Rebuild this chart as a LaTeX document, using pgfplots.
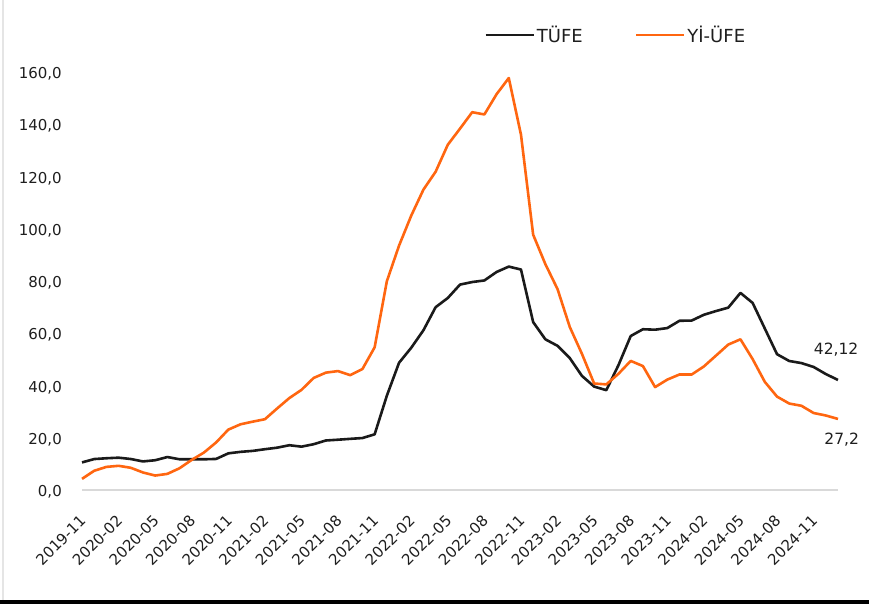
\documentclass[border=0pt]{standalone}
\usepackage{pgfplots}
\pgfplotsset{compat=1.18}
\usepackage{fontspec}
\setmainfont{DejaVu Sans}
\definecolor{tufe}{RGB}{26,26,26}
\definecolor{yiufe}{RGB}{255,102,16}
\definecolor{txt}{RGB}{30,30,30}
\begin{document}
\begin{tikzpicture}[x=1pt,y=1pt]
\path[use as bounding box] (0,0) rectangle (869,604);
\fill[black] (0,0) rectangle (869,4);
\draw[black!10, line width=1.5pt] (3,4) -- (3,604);
\begin{axis}[
  at={(82pt,114pt)}, anchor=south west,
  scale only axis, width=756pt, height=418pt,
  xmin=0, xmax=62, ymin=0, ymax=160,
  clip=false,
  axis line style={draw=none},
  axis x line*=bottom,
  axis y line*=left,
  x axis line style={draw=black!15, line width=1.6pt},
  ytick={0,20,...,160},
  xtick={0,3,...,60},
  xticklabels={2019-11,2020-02,2020-05,2020-08,2020-11,2021-02,2021-05,2021-08,2021-11,2022-02,2022-05,2022-08,2022-11,2023-02,2023-05,2023-08,2023-11,2024-02,2024-05,2024-08,2024-11},
  major tick length=0pt,
  tick style={draw=none},
  ticklabel style={font=\fontsize{15}{18}\selectfont, text=txt},
  yticklabel style={anchor=east, inner sep=0pt, xshift=-20pt, yshift=-2pt},
  xticklabel style={xshift=1pt, yshift=-28pt, rotate=45, anchor=east, inner sep=0pt},
  /pgf/number format/.cd, fixed, fixed zerofill, precision=1, use comma, assume math mode=true,
  /pgfplots/.cd,
  legend style={at={(0.706,1.0885)}, anchor=center, draw=none, fill=none,
    font=\fontsize{18}{21}\selectfont, text=txt,
    legend columns=2, inner sep=0pt,
    /tikz/every even column/.append style={column sep=50pt}},
  legend image code/.code={\draw[#1] (0pt,0pt) -- (48pt,0pt);},
]
\addplot[tufe, line width=2.6pt, line join=round] coordinates {
(0,10.56)(1,11.84)(2,12.15)(3,12.37)(4,11.86)(5,10.94)(6,11.39)(7,12.62)(8,11.76)(9,11.77)
(10,11.75)(11,11.89)(12,14.03)(13,14.60)(14,14.97)(15,15.61)(16,16.19)(17,17.14)(18,16.59)(19,17.53)
(20,18.95)(21,19.25)(22,19.58)(23,19.89)(24,21.31)(25,36.08)(26,48.69)(27,54.44)(28,61.14)(29,69.97)
(30,73.50)(31,78.62)(32,79.60)(33,80.21)(34,83.45)(35,85.51)(36,84.39)(37,64.27)(38,57.68)(39,55.18)
(40,50.51)(41,43.68)(42,39.59)(43,38.21)(44,47.83)(45,58.94)(46,61.53)(47,61.36)(48,61.98)(49,64.77)
(50,64.86)(51,67.07)(52,68.50)(53,69.80)(54,75.45)(55,71.60)(56,61.78)(57,51.97)(58,49.38)(59,48.58)
(60,47.09)(61,44.38)(62,42.12)};
\addlegendentry{TÜFE}
\addplot[yiufe, line width=2.6pt, line join=round] coordinates {
(0,4.26)(1,7.36)(2,8.84)(3,9.26)(4,8.50)(5,6.71)(6,5.53)(7,6.17)(8,8.33)(9,11.53)
(10,14.33)(11,18.20)(12,23.11)(13,25.15)(14,26.16)(15,27.09)(16,31.20)(17,35.17)(18,38.33)(19,42.89)
(20,44.92)(21,45.52)(22,43.96)(23,46.31)(24,54.62)(25,79.89)(26,93.53)(27,105.01)(28,114.97)(29,121.82)
(30,132.16)(31,138.31)(32,144.61)(33,143.75)(34,151.50)(35,157.69)(36,136.02)(37,97.72)(38,86.46)(39,76.89)
(40,62.43)(41,52.11)(42,40.76)(43,40.42)(44,44.50)(45,49.41)(46,47.44)(47,39.39)(48,42.25)(49,44.22)
(50,44.20)(51,47.29)(52,51.47)(53,55.66)(54,57.68)(55,50.09)(56,41.37)(57,35.75)(58,33.09)(59,32.24)
(60,29.47)(61,28.52)(62,27.20)};
\addlegendentry{Yİ-ÜFE}
\node[font=\fontsize{15.5}{18}\selectfont, text=txt] at (axis cs:61.85,53.6) {42,12};
\node[font=\fontsize{15.5}{18}\selectfont, text=txt] at (axis cs:62.3,19.1) {27,2};
\end{axis}
\end{tikzpicture}
\end{document}
